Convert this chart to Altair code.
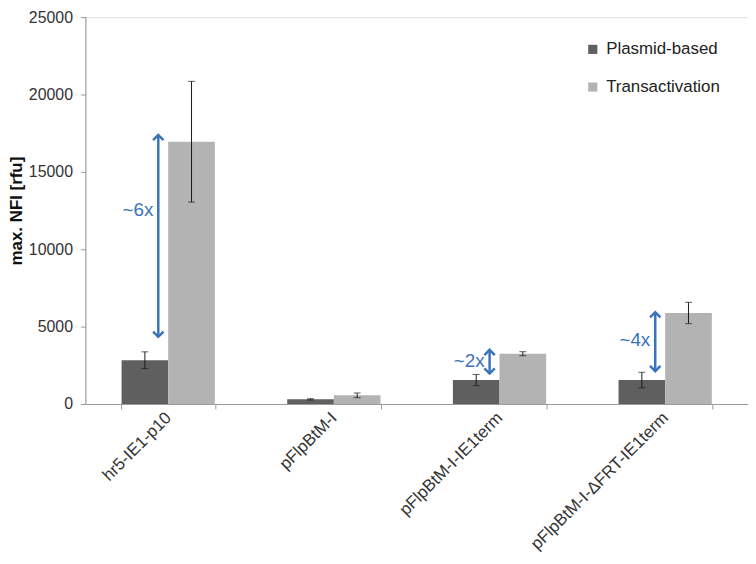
import altair as alt
import pandas as pd

categories = ["hr5-IE1-p10", "pFlpBtM-I", "pFlpBtM-I-IE1term", "pFlpBtM-I-ΔFRT-IE1term"]
series = ["Plasmid-based", "Transactivation"]
plasmid = [2830, 300, 1550, 1550]
plasmid_err = [540, 40, 360, 500]
trans = [16950, 560, 3250, 5880]
trans_err = [3900, 150, 130, 690]

arrow_cats = ["hr5-IE1-p10", "pFlpBtM-I-IE1term", "pFlpBtM-I-ΔFRT-IE1term"]
arrow_lo = [4345, 1970, 2120]
arrow_hi = [17390, 3500, 5935]
arrow_text = ["~6x", "~2x", "~4x"]
arrow_text_y = [12530, 2755, 4135]

rows = []
for i, c in enumerate(categories):
    rows.append(dict(category=c, series=series[0], value=plasmid[i],
                     lo=plasmid[i] - plasmid_err[i], hi=plasmid[i] + plasmid_err[i]))
    rows.append(dict(category=c, series=series[1], value=trans[i],
                     lo=trans[i] - trans_err[i], hi=trans[i] + trans_err[i]))
df = pd.DataFrame(rows)
adf = pd.DataFrame(dict(category=arrow_cats, lo=arrow_lo, hi=arrow_hi,
                        label=arrow_text, ty=arrow_text_y))

FONT = "Liberation Sans"
BLUE = "#3a72bc"
AXC = "#9a9a9a"

x = alt.X("category:N", sort=categories, title=None,
          scale=alt.Scale(paddingInner=0.437, paddingOuter=0.2185),
          axis=alt.Axis(labelAngle=-45, labelAlign="right", labelBaseline="middle",
                        labelFontSize=17, labelColor="#333333", labelPadding=6, labelLimit=0,
                        tickBand="extent", tickSize=5, tickColor=AXC, domainColor=AXC))
xo = alt.XOffset("series:N", sort=series, scale=alt.Scale(paddingInner=0, paddingOuter=0))
yscale = alt.Scale(domain=[0, 25000], nice=False)
y = alt.Y("value:Q", scale=yscale, title="max. NFI [rfu]",
          axis=alt.Axis(values=[0, 5000, 10000, 15000, 20000, 25000], format="d",
                        tickSize=5, tickColor=AXC, domainColor=AXC, grid=False,
                        labelFontSize=16, labelColor="#333333", labelPadding=8,
                        titleFontSize=17, titleFontWeight="bold", titleColor="#111111",
                        titlePadding=3))

bars = alt.Chart(df).mark_bar(size=47).encode(
    x=x, xOffset=xo, y=y,
    color=alt.Color("series:N", sort=series,
                    scale=alt.Scale(domain=series, range=["#5f5f5f", "#b3b3b3"]),
                    legend=alt.Legend(title=None, orient="none", legendX=503, legendY=24,
                                      symbolType="square", symbolSize=85, symbolStrokeWidth=0,
                                      labelFontSize=17, labelColor="#222222", labelOffset=5,
                                      rowPadding=20, padding=0)),
)

err = alt.Chart(df).mark_rule(color="#1a1a1a", strokeWidth=1).encode(
    x=x, xOffset=xo, y=alt.Y("lo:Q", scale=yscale), y2="hi:Q")
cap_lo = alt.Chart(df).mark_tick(color="#1a1a1a", thickness=1, size=7).encode(
    x=x, xOffset=xo, y=alt.Y("lo:Q", scale=yscale))
cap_hi = alt.Chart(df).mark_tick(color="#1a1a1a", thickness=1, size=7).encode(
    x=x, xOffset=xo, y=alt.Y("hi:Q", scale=yscale))

arrow_line = alt.Chart(adf).mark_rule(color=BLUE, strokeWidth=2.5, xOffset=-10).encode(
    x=x, y=alt.Y("lo:Q", scale=yscale), y2="hi:Q")
head_up = alt.Chart(adf).mark_point(shape="M-1,1L0,0L1,1", filled=False, color=BLUE,
                                    strokeWidth=2.5, size=110, opacity=1, xOffset=-10).encode(
    x=x, y=alt.Y("hi:Q", scale=yscale))
head_dn = alt.Chart(adf).mark_point(shape="M-1,-1L0,0L1,-1", filled=False, color=BLUE,
                                    strokeWidth=2.5, size=110, opacity=1, xOffset=-10).encode(
    x=x, y=alt.Y("lo:Q", scale=yscale))
labels = alt.Chart(adf).mark_text(color=BLUE, fontSize=19, align="right", baseline="middle",
                                  xOffset=-15, font=FONT).encode(
    x=x, y=alt.Y("ty:Q", scale=yscale), text="label:N")

chart = alt.layer(bars, err, cap_lo, cap_hi, arrow_line, head_up, head_dn, labels).properties(
    width=668, height=390,
    autosize=alt.AutoSizeParams(type="none"),
    padding={"left": 78, "top": 7, "right": 0, "bottom": 148},
).configure_view(stroke=None).configure(font=FONT)

chart.save("out.html", embed_options={"renderer": "svg", "actions": False})
